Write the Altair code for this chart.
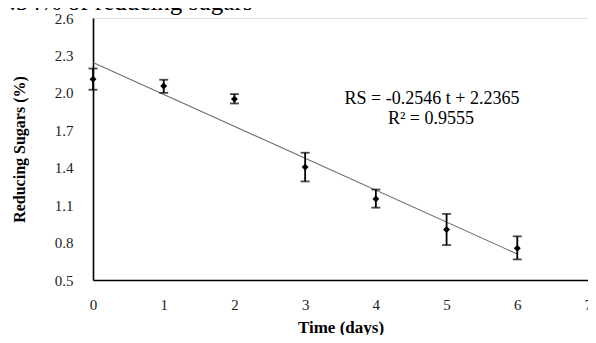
import altair as alt
import pandas as pd

# ---- data ----
days = [0, 1, 2, 3, 4, 5, 6]
sugars = [2.11, 2.055, 1.95, 1.405, 1.15, 0.905, 0.755]
err_low = [2.025, 2.0, 1.915, 1.29, 1.08, 0.78, 0.665]
err_high = [2.195, 2.105, 1.99, 1.52, 1.225, 1.03, 0.85]
x_ticks = [0, 1, 2, 3, 4, 5, 6, 7]
y_ticks = [0.5, 0.8, 1.1, 1.4, 1.7, 2.0, 2.3, 2.6]
equation_lines = ["RS = -0.2546 t + 2.2365", "R² = 0.9555"]
header_text = "0.54% of reducing sugars"
x_title = "Time (days)"
y_title = "Reducing Sugars (%)"

df = pd.DataFrame({"day": days, "sugar": sugars, "lo": err_low, "hi": err_high})

SERIF = "Liberation Serif"
W, H = 495, 262

x_scale = alt.Scale(domain=[0, 7], nice=False, zero=False)
y_scale = alt.Scale(domain=[0.5, 2.6], nice=False, zero=False)

x_axis = alt.Axis(values=x_ticks, tickCount=len(x_ticks) + 2, format="d",
                  title=x_title, titleBaseline="alphabetic", titleY=52)
y_axis = alt.Axis(values=y_ticks, tickCount=len(y_ticks) + 2, format=".1f",
                  title=y_title, titleBaseline="alphabetic", titleX=-69,
                  titleY=131, titleAlign="center", titleAngle=270)

base = alt.Chart(df)

trend = base.transform_regression("day", "sugar", extent=[0, 6]).mark_line(
    color="#6e6e6e", strokeWidth=1.1
).encode(
    x=alt.X("day:Q", scale=x_scale, axis=x_axis),
    y=alt.Y("sugar:Q", scale=y_scale, axis=y_axis),
)

bars = base.mark_rule(color="black", strokeWidth=1.8).encode(
    x=alt.X("day:Q", scale=x_scale, axis=x_axis),
    y=alt.Y("lo:Q", scale=y_scale, axis=y_axis), y2="hi:Q"
)
cap_lo = base.mark_tick(color="black", orient="horizontal", size=9,
                        thickness=1.8).encode(x="day:Q", y="lo:Q")
cap_hi = base.mark_tick(color="black", orient="horizontal", size=9,
                        thickness=1.8).encode(x="day:Q", y="hi:Q")
points = base.mark_point(shape="diamond", filled=True, color="black",
                         size=48, opacity=1).encode(x="day:Q", y="sugar:Q")

eq_df = pd.DataFrame({"txt": equation_lines, "row": [0, 1]})
eq1 = alt.Chart(eq_df[eq_df.row == 0]).mark_text(
    font=SERIF, fontSize=18, align="center", baseline="alphabetic", color="black"
).encode(text="txt:N", x=alt.value(339), y=alt.value(86))
eq2 = alt.Chart(eq_df[eq_df.row == 1]).mark_text(
    font=SERIF, fontSize=18, align="center", baseline="alphabetic", color="black"
).encode(text="txt:N", x=alt.value(338), y=alt.value(106))

hdr = alt.Chart(pd.DataFrame({"txt": [header_text]})).mark_text(
    font=SERIF, fontSize=25, align="left", baseline="alphabetic", color="black"
).encode(text="txt:N", x=alt.value(-96), y=alt.value(-8))

chart = alt.layer(trend, bars, cap_lo, cap_hi, points, eq1, eq2, hdr).properties(
    width=W, height=H,
    autosize=alt.AutoSizeParams(type="none"),
    padding={"left": 85, "top": 10, "right": 0, "bottom": 55},
).configure_view(stroke=None).configure(background="white").configure_axis(
    ticks=False, grid=False, labelOverlap=False, labelFlush=False,
    labelFont=SERIF, labelFontSize=15, labelColor="#222",
    domainColor="black", domainWidth=1.6,
    titleFont=SERIF, titleFontWeight="bold", titleColor="black",
).configure_axisX(labelPadding=17, titleFontSize=17).configure_axisY(
    labelPadding=20, titleFontSize=16
)

chart.save("out.html", embed_options={"renderer": "svg", "actions": False})
